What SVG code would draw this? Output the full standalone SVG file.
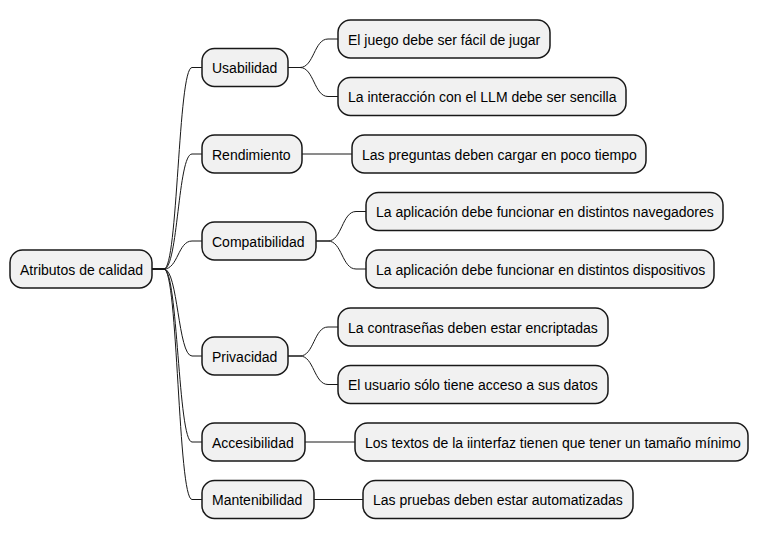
<svg xmlns="http://www.w3.org/2000/svg" width="761" height="539" viewBox="0 0 761 539">
<style>
.n rect{fill:#F1F1F1;stroke:#181818;stroke-width:1.5}
.n text{font-family:"Liberation Sans",Arial,sans-serif;font-size:14px;fill:#000}
.c path{fill:none;stroke:#181818;stroke-width:1}
</style>
<rect width="761" height="539" fill="#FFFFFF"/>
<g class="c" id="connectors">
<path d="M152,269 L164,269 C178,269 178,67.5 192,67.5 L202,67.5"/>
<path d="M152,269 L164,269 C178,269 178,154 192,154 L202,154"/>
<path d="M152,269 L164,269 C178,269 178,241 192,241 L202,241"/>
<path d="M152,269 L164,269 C178,269 178,356 192,356 L202,356"/>
<path d="M152,269 L164,269 C178,269 178,442 192,442 L202,442"/>
<path d="M152,269 L164,269 C178,269 178,499.5 192,499.5 L202,499.5"/>
<path d="M288,67.5 L300,67.5 C314,67.5 314,39 328,39 L338,39"/>
<path d="M288,67.5 L300,67.5 C314,67.5 314,96.5 328,96.5 L338,96.5"/>
<path d="M302,154 L352,154"/>
<path d="M316,241 L328,241 C342,241 342,211.5 356,211.5 L366,211.5"/>
<path d="M316,241 L328,241 C342,241 342,269 356,269 L366,269"/>
<path d="M288,356 L300,356 C314,356 314,327 328,327 L338,327"/>
<path d="M288,356 L300,356 C314,356 314,384.5 328,384.5 L338,384.5"/>
<path d="M305,442 L355,442"/>
<path d="M314,499.5 L363,499.5"/>
</g>
<g class="n" id="root"><rect x="10" y="250" width="142" height="38" rx="12.5"/><text x="20" y="274.5">Atributos de calidad</text></g>
<g class="n" id="usabilidad"><rect x="202" y="48.5" width="86" height="38" rx="12.5"/><text x="212" y="73">Usabilidad</text></g>
<g class="n" id="rendimiento"><rect x="202" y="135" width="100" height="38" rx="12.5"/><text x="212" y="159.5">Rendimiento</text></g>
<g class="n" id="compatibilidad"><rect x="202" y="222" width="114" height="38" rx="12.5"/><text x="212" y="246.5">Compatibilidad</text></g>
<g class="n" id="privacidad"><rect x="202" y="337" width="86" height="38" rx="12.5"/><text x="212" y="361.5">Privacidad</text></g>
<g class="n" id="accesibilidad"><rect x="202" y="423" width="103" height="38" rx="12.5"/><text x="212" y="447.5">Accesibilidad</text></g>
<g class="n" id="mantenibilidad"><rect x="202" y="480.5" width="112" height="38" rx="12.5"/><text x="212" y="505">Mantenibilidad</text></g>
<g class="n" id="juego"><rect x="338" y="20" width="212" height="38" rx="12.5"/><text x="348" y="44.5">El juego debe ser fácil de jugar</text></g>
<g class="n" id="interaccion"><rect x="338" y="77.5" width="288" height="38" rx="12.5"/><text x="348" y="102">La interacción con el LLM debe ser sencilla</text></g>
<g class="n" id="preguntas"><rect x="352" y="135" width="294" height="38" rx="12.5"/><text x="362" y="159.5">Las preguntas deben cargar en poco tiempo</text></g>
<g class="n" id="navegadores"><rect x="366" y="192.5" width="357" height="38" rx="12.5"/><text x="376" y="217">La aplicación debe funcionar en distintos navegadores</text></g>
<g class="n" id="dispositivos"><rect x="366" y="250" width="348" height="38" rx="12.5"/><text x="376" y="274.5">La aplicación debe funcionar en distintos dispositivos</text></g>
<g class="n" id="contrasenas"><rect x="338" y="308" width="270" height="38" rx="12.5"/><text x="348" y="332.5">La contraseñas deben estar encriptadas</text></g>
<g class="n" id="usuario"><rect x="338" y="365.5" width="270" height="38" rx="12.5"/><text x="348" y="390">El usuario sólo tiene acceso a sus datos</text></g>
<g class="n" id="textos"><rect x="355" y="423" width="393" height="38" rx="12.5"/><text x="365" y="447.5">Los textos de la iinterfaz tienen que tener un tamaño mínimo</text></g>
<g class="n" id="pruebas"><rect x="363" y="480.5" width="270" height="38" rx="12.5"/><text x="373" y="505">Las pruebas deben estar automatizadas</text></g>
</svg>
